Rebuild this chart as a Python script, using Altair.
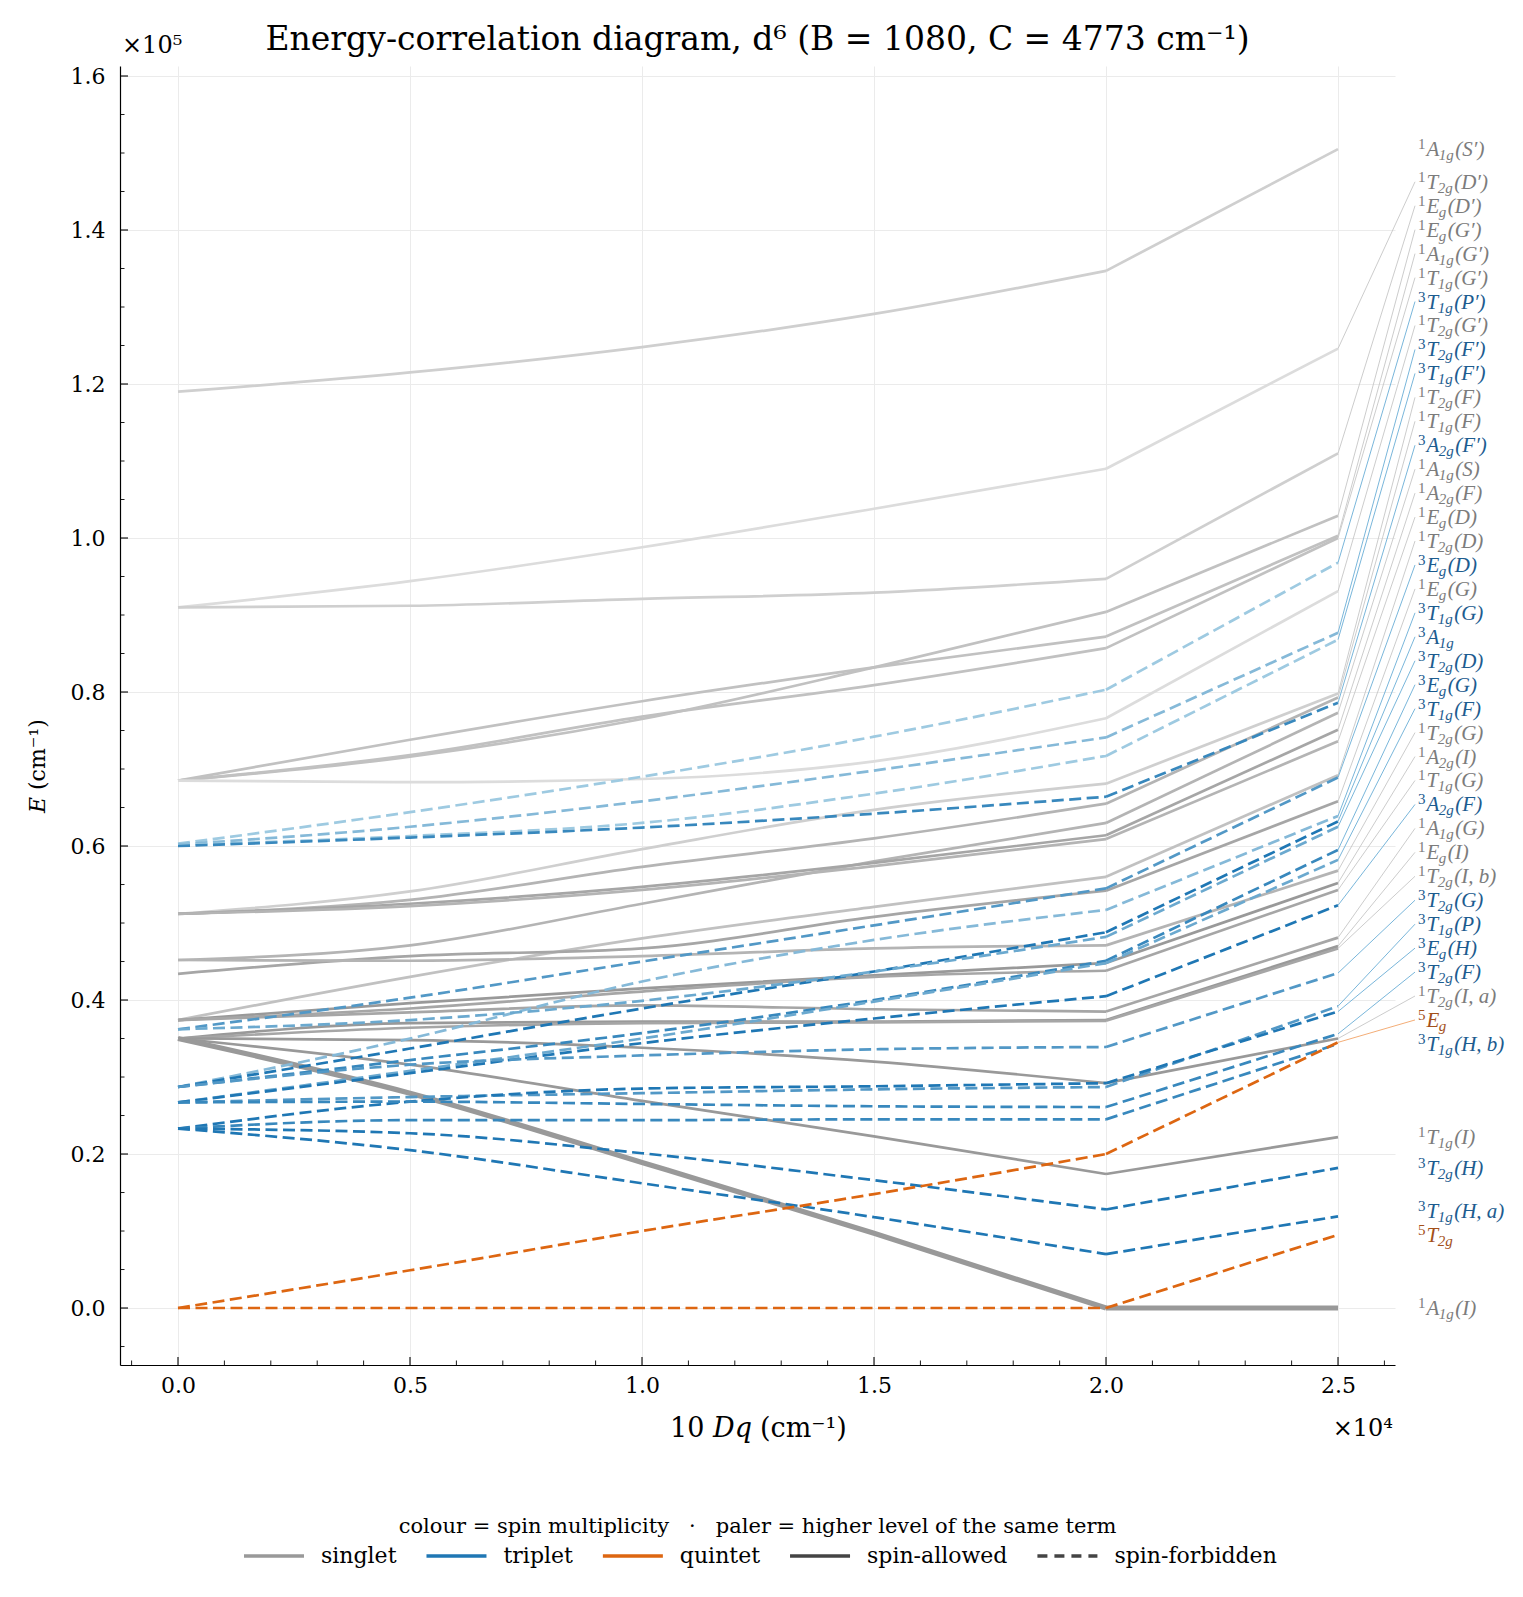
import altair as alt
import pandas as pd

# ------------------------------------------------------------------ data
DQ10 = [0, 5000, 10000, 15000, 20000, 25000]          # 10Dq sample points (cm^-1)

MULT = [1, 1, 1, 1, 1, 1, 1, 1, 1, 1, 1, 1, 1, 1, 1, 1, 1, 1, 1, 1, 1, 1, 1,
        3, 3, 3, 3, 3, 3, 3, 3, 3, 3, 3, 3, 3, 3, 3, 3, 3, 3,
        5, 5]
TERM = ["A1g", "T2g", "Eg", "Eg", "A1g", "T1g", "T2g", "T2g", "T1g", "A1g",
        "A2g", "Eg", "T2g", "Eg", "T2g", "A2g", "T1g", "A1g", "Eg", "T2g",
        "T2g", "T1g", "A1g",
        "T1g", "T2g", "T1g", "A2g", "Eg", "T1g", "A1g", "T2g", "Eg", "T1g",
        "A2g", "T2g", "T1g", "Eg", "T2g", "T1g", "T2g", "T1g",
        "Eg", "T2g"]
PARENT = ["S′", "D′", "D′", "G′", "G′", "G′", "G′", "F", "F", "S",
          "F", "D", "D", "G", "G", "I", "G", "G", "I", "I, b",
          "I, a", "I", "I",
          "P′", "F′", "F′", "F′", "D", "G", "", "D", "G", "F",
          "F", "G", "P", "H", "F", "H, b", "H", "H, a",
          "", ""]

E_AT_0 = [119000, 91000, 91000, 68500, 68500, 68500, 68500, 51200, 51200, 45200,
          51200, 51200, 37400, 43400, 45200, 37400, 37400, 37400, 35000, 35000,
          35000, 35000, 35000,
          60300, 60200, 60100, 60000, 36200, 28700, 28700, 36200, 28700, 26700,
          26700, 28700, 26700, 23300, 26700, 23300, 23300, 23300,
          0, 0]
E_AT_5000 = [121500, 94400, 91200, 71600, 73800, 71800, 68300, 54100, 53000, 47100,
             52500, 52200, 43000, 45700, 45100, 39600, 38900, 38400, 37000, 36400,
             34800, 31600, 27900,
             64400, 62500, 61300, 61100, 40300, 35000, 33700, 37400, 32200, 30800,
             30500, 31600, 27400, 26800, 26800, 24400, 22700, 20500,
             4900, 0]
E_AT_10000 = [124800, 98800, 92100, 76500, 78800, 76800, 68700, 59600, 57300, 52500,
              54700, 54300, 48000, 46700, 45700, 41500, 41100, 39300, 37200, 37000,
              33800, 26900, 18900,
              69000, 65800, 63000, 62400, 45000, 42400, 38900, 39900, 35700, 35000,
              34400, 32800, 27900, 28500, 26500, 24400, 20100, 16200,
              10000, 0]
E_AT_15000 = [129100, 103800, 92900, 83200, 83200, 80900, 71000, 64700, 61000, 58000,
              57800, 57400, 52100, 50800, 46700, 43200, 43000, 38800, 37200, 37100,
              32000, 22300, 9700,
              74200, 69800, 66800, 64200, 49700, 47800, 43700, 43700, 40000, 39800,
              37600, 33600, 28400, 28800, 26200, 24500, 16600, 11800,
              14800, 0]
E_AT_20000 = [134700, 109000, 94700, 90400, 87200, 85700, 76600, 68100, 65500, 63000,
              61400, 60900, 56000, 54200, 47100, 44800, 43800, 38500, 37400, 37300,
              29200, 17400, 0,
              80300, 74100, 71700, 66400, 54500, 51700, 48800, 48200, 45100, 44800,
              40500, 33900, 28700, 29200, 26100, 24500, 12800, 7000,
              20000, 0]
E_AT_25000 = [150500, 124600, 111000, 102900, 100300, 100000, 93100, 79800, 79300, 77300,
              75100, 73600, 69200, 65800, 56800, 55200, 54300, 48100, 47000, 46700,
              35000, 22200, 0,
              96800, 87700, 86800, 78600, 68900, 63900, 63200, 62500, 59500, 58200,
              52300, 43500, 39200, 38500, 35600, 34300, 18200, 11900,
              34500, 9500]

X_MAJOR = [0, 5000, 10000, 15000, 20000, 25000]
Y_MAJOR = [0, 20000, 40000, 60000, 80000, 100000, 120000, 140000, 160000]
X_MINOR = [v for v in range(-1000, 26001, 1000) if v % 5000]
Y_MINOR = [v for v in range(-5000, 160001, 5000) if v % 20000]

TITLE = "Energy-correlation diagram, d⁶ (B = 1080, C = 4773 cm⁻¹)"
NB = "\u00a0"
LEGEND_NOTE = "colour = spin multiplicity" + NB * 3 + "·" + NB * 3 + "paler = higher level of the same term"
LEGEND_LABELS = ["singlet", "triplet", "quintet", "spin-allowed", "spin-forbidden"]

# ------------------------------------------------------------------ layout / style
W, H = 1275, 1299
XD = [-1250, 26228]
YD = [-7400, 161300]
FONT = "DejaVu Serif"
MATH = "Liberation Serif"
XS = alt.Scale(domain=XD, nice=False, zero=False)
YS = alt.Scale(domain=YD, nice=False, zero=False)
DASH = [12, 5.5]
LW = 2.7


def px_to_x(px):
    return XD[0] + px * (XD[1] - XD[0]) / W


n = len(MULT)
E = [E_AT_0, E_AT_5000, E_AT_10000, E_AT_15000, E_AT_20000, E_AT_25000]
end = E_AT_25000

PAL = {1: ((0x99, 0x99, 0x99), (0xdc, 0xdc, 0xdc)),
       3: ((0x1f, 0x77, 0xb4), (0x9e, 0xca, 0xe1)),
       5: ((0xdd, 0x66, 0x11), (0xf5, 0xa6, 0x6a))}
TEXT_COL = {1: "#7c7c7c", 3: "#1d5c8f", 5: "#a3501a"}
LEAD_COL = {1: "#c6c6c6", 3: "#6aaed6", 5: "#f2a468"}


def mix(a, b, t):
    return "#%02x%02x%02x" % tuple(round(a[k] + (b[k] - a[k]) * t) for k in range(3))


colour = []
for i in range(n):
    same = sorted([j for j in range(n) if MULT[j] == MULT[i] and TERM[j] == TERM[i]],
                  key=lambda j: (end[j], j))
    r = same.index(i)
    colour.append(mix(*PAL[MULT[i]], min(r / 5, 1)))
ground = min(range(n), key=lambda i: end[i])
width = [5.2 if i == ground else LW for i in range(n)]

rows = []
for i in range(n):
    for k in range(6):
        segs = (["a"] if k <= 4 else []) + (["b"] if k >= 4 else [])
        for s in segs:
            rows.append(dict(line=f"{i:02d}{s}", seg=s, dq=DQ10[k], E=E[k][i],
                             color=colour[i], width=width[i], dashed=MULT[i] != 1))
df = pd.DataFrame(rows)

XAXIS = alt.Axis(values=X_MAJOR, labelExpr="format(datum.value / 10000, '.1f')",
                 labelPadding=10, grid=True)
YAXIS = alt.Axis(values=Y_MAJOR, labelExpr="format(datum.value / 100000, '.1f')",
                 labelPadding=15, grid=True)


def xenc(f):
    return alt.X(f, type="quantitative", scale=XS, axis=XAXIS, title=None)


def yenc(f):
    return alt.Y(f, type="quantitative", scale=YS, axis=YAXIS, title=None)


def line_layer(d, interp, dashed):
    kw = dict(interpolate=interp)
    if dashed:
        kw["strokeDash"] = DASH
    return alt.Chart(d).mark_line(**kw).encode(
        x=xenc("dq"), y=yenc("E"), detail="line:N",
        color=alt.Color("color:N", scale=None),
        strokeWidth=alt.StrokeWidth("width:Q", scale=None))


solid = df[~df.dashed]
dashed = df[df.dashed]
layers = [
    line_layer(solid[solid.seg == "a"], "monotone", False),
    line_layer(solid[solid.seg == "b"], "linear", False),
    line_layer(dashed[dashed.seg == "a"], "monotone", True),
    line_layer(dashed[dashed.seg == "b"], "linear", True),
]

# inward ticks
layers += [
    alt.Chart(pd.DataFrame({"v": Y_MAJOR})).mark_rule(color="black", strokeWidth=1.1)
    .encode(y=yenc("v"), x=alt.value(0), x2=alt.value(8)),
    alt.Chart(pd.DataFrame({"v": Y_MINOR})).mark_rule(color="black", strokeWidth=0.9)
    .encode(y=yenc("v"), x=alt.value(0), x2=alt.value(4.5)),
    alt.Chart(pd.DataFrame({"v": X_MAJOR})).mark_rule(color="black", strokeWidth=1.1)
    .encode(x=xenc("v"), y=alt.value(H), y2=alt.value(H - 8)),
    alt.Chart(pd.DataFrame({"v": X_MINOR})).mark_rule(color="black", strokeWidth=0.9)
    .encode(x=xenc("v"), y=alt.value(H), y2=alt.value(H - 4.5)),
]

# ------------------------------------------------------------------ right-hand labels
GAP = 3110
order = sorted(range(n), key=lambda i: (end[i], i))
pos = [0] * n
prev = -1e12
for i in order:
    pos[i] = max(end[i], prev + GAP)
    prev = pos[i]

W_IT = {"A": .611, "T": .556, "E": .611, "g": .5, "1": .5, "2": .5}
FS_MAIN, FS_SMALL = 21, 15
LX = 1298
lab = []
lead = []
for i in range(n):
    sym, sub = TERM[i][0], TERM[i][1:]
    x_sym = LX + 0.5 * FS_SMALL + 1
    x_sub = x_sym + W_IT[sym] * FS_MAIN - 0.5
    x_tail = x_sub + sum(W_IT[c] for c in sub) * FS_SMALL + 1.5
    tail = f"({PARENT[i]})" if PARENT[i] else ""
    tc = TEXT_COL[MULT[i]]
    lab.append(dict(part="sup", lx=px_to_x(LX), pos=pos[i], t=str(MULT[i]), c=tc))
    lab.append(dict(part="sym", lx=px_to_x(x_sym), pos=pos[i], t=sym, c=tc))
    lab.append(dict(part="sub", lx=px_to_x(x_sub), pos=pos[i], t=sub, c=tc))
    if tail:
        lab.append(dict(part="tail", lx=px_to_x(x_tail), pos=pos[i], t=tail, c=tc))
    if pos[i] - end[i] > 1000:
        lead.append(dict(x=DQ10[-1], x2=px_to_x(1295), y=end[i], y2=pos[i],
                         c=LEAD_COL[MULT[i]]))
lab = pd.DataFrame(lab)
lead = pd.DataFrame(lead)

layers.append(alt.Chart(lead).mark_rule(strokeWidth=0.9).encode(
    x=xenc("x"), x2="x2:Q", y=yenc("y"), y2="y2:Q",
    color=alt.Color("c:N", scale=None)))

PART_STYLE = {"sup": dict(fontSize=FS_SMALL, dy=0, fontStyle="normal"),
              "sym": dict(fontSize=FS_MAIN, dy=7, fontStyle="italic"),
              "sub": dict(fontSize=FS_SMALL, dy=11, fontStyle="italic"),
              "tail": dict(fontSize=FS_MAIN, dy=7, fontStyle="italic")}
for part, st in PART_STYLE.items():
    layers.append(alt.Chart(lab[lab.part == part]).mark_text(
        font=MATH, align="left", baseline="alphabetic", **st).encode(
        x=xenc("lx"), y=yenc("pos"), text="t:N", color=alt.Color("c:N", scale=None)))

# ------------------------------------------------------------------ titles & annotations
one = pd.DataFrame({"a": [0]})


def txt(s, x, y, size, **kw):
    return alt.Chart(one).mark_text(font=kw.pop("font", FONT), fontSize=size, **kw).encode(
        x=alt.value(x), y=alt.value(y), text=alt.value(s))


layers += [
    txt(TITLE, W / 2, -26, 33, align="center", baseline="middle"),
    txt("×10⁵", 2, -20, 24, align="left", baseline="middle"),
    txt("×10⁴", W - 2, 1363, 24, align="right", baseline="middle"),
    # x title: 10 Dq (cm-1)
    txt("10", 550, 1363, 27, align="left", baseline="middle"),
    txt("Dq", 593, 1363, 27, align="left", baseline="middle", fontStyle="italic"),
    txt("(cm⁻¹)", 640, 1363, 27, align="left", baseline="middle"),
    # y title: E (cm-1)
    txt("E", -82, 747, 22, align="left", baseline="middle", angle=270, fontStyle="italic"),
    txt("(cm⁻¹)", -82, 724, 22, align="left", baseline="middle", angle=270),
    txt(LEGEND_NOTE, W / 2, 1461, 21, align="center", baseline="middle"),
]

# legend row
CW = {"a": .596, "b": .640, "c": .560, "d": .640, "e": .592, "f": .370, "g": .640,
      "h": .644, "i": .320, "l": .320, "m": .948, "n": .644, "o": .602, "p": .640,
      "q": .640, "r": .478, "s": .513, "t": .402, "u": .644, "w": .856, "-": .338}
LEG_STYLE = [("#999999", False), ("#1f77b4", False), ("#dd6611", False),
             ("#444444", False), ("#444444", True)]
LFS = 22
x0 = 124
for name, (col, dsh) in zip(LEGEND_LABELS, LEG_STYLE):
    kw = dict(color=col, strokeWidth=3.6)
    if dsh:
        kw["strokeDash"] = [10, 7]
    layers.append(alt.Chart(one).mark_rule(**kw).encode(
        x=alt.value(x0), x2=alt.value(x0 + 60), y=alt.value(1490)))
    layers.append(txt(name, x0 + 77, 1490, LFS, align="left", baseline="middle"))
    x0 = x0 + 77 + sum(CW.get(c, .6) for c in name) * LFS + 30

chart = alt.layer(*layers).properties(
    width=W, height=H,
    padding={"left": 112, "top": 58, "right": 120, "bottom": 210},
    autosize=alt.AutoSizeParams(type="none"),
).configure_view(stroke=None).configure_axis(
    labelFont=FONT, labelFontSize=22, labelColor="black",
    domainColor="black", domainWidth=1.2,
    gridColor="#ebebeb", gridWidth=1,
    ticks=False, tickSize=0, labelFlush=False,
)

chart.save("out.html", embed_options={"renderer": "svg", "actions": False})
